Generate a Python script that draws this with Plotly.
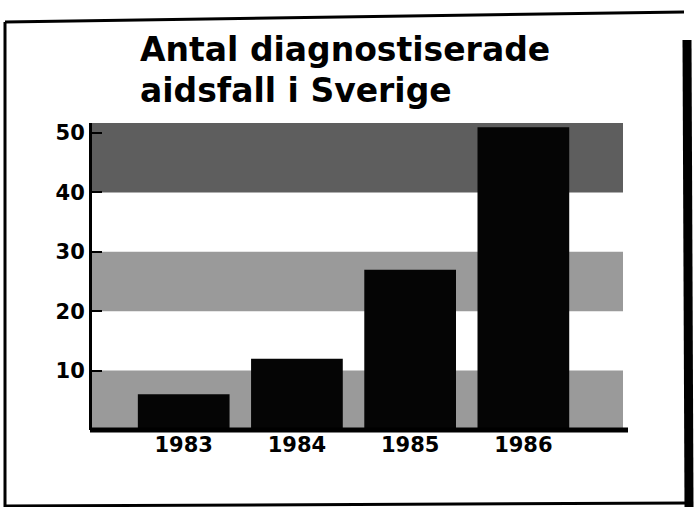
import plotly.graph_objects as go

years = ["1983", "1984", "1985", "1986"]
cases = [6, 12, 27, 51]
y_ticks = [10, 20, 30, 40, 50]
bands = [(0, 10, "#9a9a9a"), (20, 30, "#9a9a9a"), (40, 51.7, "#5e5e5e")]
title_lines = ["Antal diagnostiserade", "aidsfall i Sverige"]

W, H = 694, 507
L, R, T, B = 92, 623, 123, 430
PW, PH = R - L, B - T
FONT = "DejaVu Sans"

def px(x):
    return (x - L) / PW

def py(y):
    return (B - y) / PH

xs = list(range(len(years)))

fig = go.Figure()
fig.add_trace(go.Bar(x=xs, y=cases, marker=dict(color="#050505", line=dict(width=0)),
                     width=0.81, hoverinfo="skip"))

shapes = []
for y0, y1, c in bands:
    shapes.append(dict(type="rect", xref="paper", yref="y", x0=0, x1=1, y0=y0, y1=y1,
                       fillcolor=c, line=dict(width=0), layer="below"))
# bottom axis line
shapes.append(dict(type="line", xref="paper", yref="paper", x0=px(90), x1=px(628), y0=py(430), y1=py(430),
                   line=dict(color="black", width=5)))
# outer frame
shapes.append(dict(type="line", xref="paper", yref="paper", x0=px(5), x1=px(684), y0=py(22), y1=py(12),
                   line=dict(color="black", width=3)))
shapes.append(dict(type="line", xref="paper", yref="paper", x0=px(5), x1=px(5), y0=py(22), y1=py(507),
                   line=dict(color="black", width=3)))
shapes.append(dict(type="line", xref="paper", yref="paper", x0=px(687), x1=px(689), y0=py(40), y1=py(507),
                   line=dict(color="black", width=9)))
shapes.append(dict(type="line", xref="paper", yref="paper", x0=px(5), x1=px(690), y0=py(506), y1=py(503),
                   line=dict(color="black", width=3)))

annotations = []
for line, ybase in zip(title_lines, [71, 112]):
    annotations.append(dict(text="<b>" + line + "</b>", xref="paper", yref="paper",
                            x=px(138), y=py(ybase), xanchor="left", yanchor="bottom",
                            showarrow=False, font=dict(family=FONT, size=33, color="black")))

fig.update_layout(
    width=W, height=H,
    margin=dict(l=L, r=W - R, t=T, b=H - B, pad=0),
    paper_bgcolor="white", plot_bgcolor="white",
    showlegend=False,
    shapes=shapes, annotations=annotations,
    bargap=0.19,
    xaxis=dict(range=[-0.81, 3.88], tickvals=xs, ticktext=["<b>" + y + "</b>" for y in years],
               showgrid=False, zeroline=False, showline=False, ticks="",
               tickfont=dict(family=FONT, size=21, color="black"), fixedrange=True),
    yaxis=dict(range=[0, 51.7], tickvals=y_ticks, ticktext=["<b>%d</b>" % v for v in y_ticks],
               showgrid=False, zeroline=False, showline=True, linewidth=3, linecolor="black",
               ticks="inside", ticklen=10, tickwidth=2, tickcolor="black",
               tickfont=dict(family=FONT, size=21, color="black"), fixedrange=True),
)

fig.write_html("out.html", config={"displayModeBar": False},
               post_script="document.body.style.margin='0';")
